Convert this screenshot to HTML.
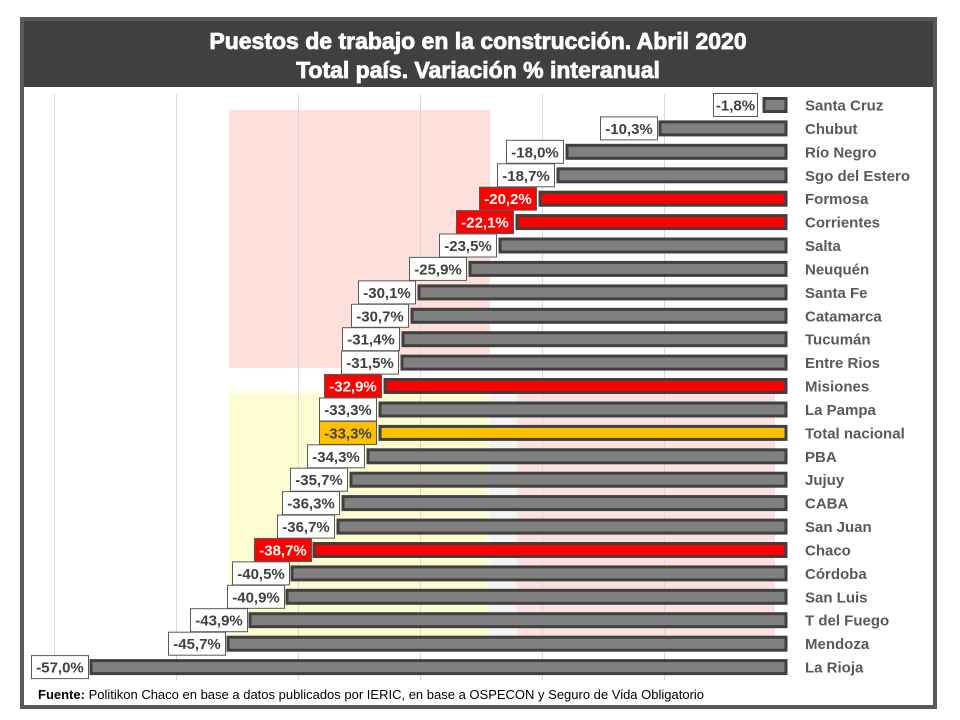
<!DOCTYPE html>
<html><head><meta charset="utf-8"><style>
html,body{margin:0;padding:0;background:#fff;}
svg{display:block;font-family:"Liberation Sans",sans-serif;}
.b{stroke:#404040;stroke-width:3;fill:#808080}
.r{fill:#ff0000}.y{fill:#ffc000}
.lb{fill:#fff;stroke:#595959;stroke-width:1}
.lr{fill:#ff0000;stroke:#595959;stroke-width:1}
.ly{fill:#ffc000;stroke:#595959;stroke-width:1}
.t{font-size:15px;font-weight:bold;fill:#404040;text-anchor:middle}
.w{fill:#fff}
.n{font-size:15px;font-weight:bold;fill:#595959}
</style></head><body>
<svg width="960" height="720" viewBox="0 0 960 720">
<rect x="0" y="0" width="960" height="720" fill="#fff"/>
<rect x="229" y="110" width="261" height="258" fill="#fde0dc"/>
<rect x="229" y="393" width="261" height="247" fill="#fefdd2"/>
<rect x="490" y="393" width="27" height="247" fill="#f4f4f4"/>
<rect x="517" y="393" width="258" height="247" fill="#fbe1df"/>
<g stroke="#d9d9d9" stroke-width="1">
<line x1="54.5" y1="94" x2="54.5" y2="680"/><line x1="176.5" y1="94" x2="176.5" y2="680"/>
<line x1="298.5" y1="94" x2="298.5" y2="680"/><line x1="420.5" y1="94" x2="420.5" y2="680"/>
<line x1="542.5" y1="94" x2="542.5" y2="680"/><line x1="664.5" y1="94" x2="664.5" y2="680"/>
</g>
<g transform="translate(0,105)"><rect class="b" x="764" y="-6.5" width="22" height="13"/><rect class="lb" x="713.5" y="-11.5" width="44" height="23"/><text class="t" x="735.5" y="5.5">-1,8%</text><text class="n" x="805" y="5.5">Santa Cruz</text></g>
<g transform="translate(0,128.4)"><rect class="b" x="660" y="-6.5" width="126" height="13"/><rect class="lb" x="600.5" y="-11.5" width="57" height="23"/><text class="t" x="629" y="5.5">-10,3%</text><text class="n" x="805" y="5.5">Chubut</text></g>
<g transform="translate(0,151.8)"><rect class="b" x="567" y="-6.5" width="219" height="13"/><rect class="lb" x="506.5" y="-11.5" width="57" height="23"/><text class="t" x="535" y="5.5">-18,0%</text><text class="n" x="805" y="5.5">Río Negro</text></g>
<g transform="translate(0,175.3)"><rect class="b" x="558" y="-6.5" width="228" height="13"/><rect class="lb" x="497.5" y="-11.5" width="57" height="23"/><text class="t" x="526" y="5.5">-18,7%</text><text class="n" x="805" y="5.5">Sgo del Estero</text></g>
<g transform="translate(0,198.7)"><rect class="b r" x="540" y="-6.5" width="246" height="13"/><rect class="lr" x="479.5" y="-11.5" width="57" height="23"/><text class="t w" x="508" y="5.5">-20,2%</text><text class="n" x="805" y="5.5">Formosa</text></g>
<g transform="translate(0,222.1)"><rect class="b r" x="517" y="-6.5" width="269" height="13"/><rect class="lr" x="456.5" y="-11.5" width="57" height="23"/><text class="t w" x="485" y="5.5">-22,1%</text><text class="n" x="805" y="5.5">Corrientes</text></g>
<g transform="translate(0,245.5)"><rect class="b" x="500" y="-6.5" width="286" height="13"/><rect class="lb" x="439.5" y="-11.5" width="57" height="23"/><text class="t" x="468" y="5.5">-23,5%</text><text class="n" x="805" y="5.5">Salta</text></g>
<g transform="translate(0,268.9)"><rect class="b" x="470" y="-6.5" width="316" height="13"/><rect class="lb" x="409.5" y="-11.5" width="57" height="23"/><text class="t" x="438" y="5.5">-25,9%</text><text class="n" x="805" y="5.5">Neuquén</text></g>
<g transform="translate(0,292.4)"><rect class="b" x="419" y="-6.5" width="367" height="13"/><rect class="lb" x="358.5" y="-11.5" width="57" height="23"/><text class="t" x="387" y="5.5">-30,1%</text><text class="n" x="805" y="5.5">Santa Fe</text></g>
<g transform="translate(0,315.8)"><rect class="b" x="412" y="-6.5" width="374" height="13"/><rect class="lb" x="351.5" y="-11.5" width="57" height="23"/><text class="t" x="380" y="5.5">-30,7%</text><text class="n" x="805" y="5.5">Catamarca</text></g>
<g transform="translate(0,339.2)"><rect class="b" x="403" y="-6.5" width="383" height="13"/><rect class="lb" x="342.5" y="-11.5" width="57" height="23"/><text class="t" x="371" y="5.5">-31,4%</text><text class="n" x="805" y="5.5">Tucumán</text></g>
<g transform="translate(0,362.6)"><rect class="b" x="402" y="-6.5" width="384" height="13"/><rect class="lb" x="341.5" y="-11.5" width="57" height="23"/><text class="t" x="370" y="5.5">-31,5%</text><text class="n" x="805" y="5.5">Entre Rios</text></g>
<g transform="translate(0,386)"><rect class="b r" x="385" y="-6.5" width="401" height="13"/><rect class="lr" x="324.5" y="-11.5" width="57" height="23"/><text class="t w" x="353" y="5.5">-32,9%</text><text class="n" x="805" y="5.5">Misiones</text></g>
<g transform="translate(0,409.5)"><rect class="b" x="380" y="-6.5" width="406" height="13"/><rect class="lb" x="319.5" y="-11.5" width="57" height="23"/><text class="t" x="348" y="5.5">-33,3%</text><text class="n" x="805" y="5.5">La Pampa</text></g>
<g transform="translate(0,432.9)"><rect class="b y" x="380" y="-6.5" width="406" height="13"/><rect class="ly" x="319.5" y="-11.5" width="57" height="23"/><text class="t" x="348" y="5.5">-33,3%</text><text class="n" x="805" y="5.5">Total nacional</text></g>
<g transform="translate(0,456.3)"><rect class="b" x="368" y="-6.5" width="418" height="13"/><rect class="lb" x="307.5" y="-11.5" width="57" height="23"/><text class="t" x="336" y="5.5">-34,3%</text><text class="n" x="805" y="5.5">PBA</text></g>
<g transform="translate(0,479.7)"><rect class="b" x="351" y="-6.5" width="435" height="13"/><rect class="lb" x="290.5" y="-11.5" width="57" height="23"/><text class="t" x="319" y="5.5">-35,7%</text><text class="n" x="805" y="5.5">Jujuy</text></g>
<g transform="translate(0,503.1)"><rect class="b" x="343" y="-6.5" width="443" height="13"/><rect class="lb" x="282.5" y="-11.5" width="57" height="23"/><text class="t" x="311" y="5.5">-36,3%</text><text class="n" x="805" y="5.5">CABA</text></g>
<g transform="translate(0,526.6)"><rect class="b" x="338" y="-6.5" width="448" height="13"/><rect class="lb" x="277.5" y="-11.5" width="57" height="23"/><text class="t" x="306" y="5.5">-36,7%</text><text class="n" x="805" y="5.5">San Juan</text></g>
<g transform="translate(0,550)"><rect class="b r" x="314" y="-6.5" width="472" height="13"/><rect class="lr" x="254.5" y="-11.5" width="57" height="23"/><text class="t w" x="283" y="5.5">-38,7%</text><text class="n" x="805" y="5.5">Chaco</text></g>
<g transform="translate(0,573.4)"><rect class="b" x="292" y="-6.5" width="494" height="13"/><rect class="lb" x="232.5" y="-11.5" width="57" height="23"/><text class="t" x="261" y="5.5">-40,5%</text><text class="n" x="805" y="5.5">Córdoba</text></g>
<g transform="translate(0,596.8)"><rect class="b" x="287" y="-6.5" width="499" height="13"/><rect class="lb" x="227.5" y="-11.5" width="57" height="23"/><text class="t" x="256" y="5.5">-40,9%</text><text class="n" x="805" y="5.5">San Luis</text></g>
<g transform="translate(0,620.2)"><rect class="b" x="250" y="-6.5" width="536" height="13"/><rect class="lb" x="190.5" y="-11.5" width="57" height="23"/><text class="t" x="219" y="5.5">-43,9%</text><text class="n" x="805" y="5.5">T del Fuego</text></g>
<g transform="translate(0,643.7)"><rect class="b" x="228" y="-6.5" width="558" height="13"/><rect class="lb" x="168.5" y="-11.5" width="57" height="23"/><text class="t" x="197" y="5.5">-45,7%</text><text class="n" x="805" y="5.5">Mendoza</text></g>
<g transform="translate(0,667.1)"><rect class="b" x="91" y="-6.5" width="695" height="13"/><rect class="lb" x="31.5" y="-11.5" width="57" height="23"/><text class="t" x="60" y="5.5">-57,0%</text><text class="n" x="805" y="5.5">La Rioja</text></g>
<text x="38" y="699" font-size="13" fill="#000"><tspan font-weight="bold">Fuente:</tspan> Politikon Chaco en base a datos publicados por IERIC, en base a OSPECON y Seguro de Vida Obligatorio</text>
<rect x="20" y="17" width="917" height="70" fill="#404040"/>
<g font-size="23" font-weight="bold" fill="#fff" stroke="#fff" stroke-width="0.8" text-anchor="middle">
<text x="478" y="49">Puestos de trabajo en la construcción. Abril 2020</text>
<text x="478" y="78">Total país. Variación % interanual</text>
</g>
<rect x="22" y="19" width="913" height="688" fill="none" stroke="#595959" stroke-width="4"/>
</svg>
</body></html>
